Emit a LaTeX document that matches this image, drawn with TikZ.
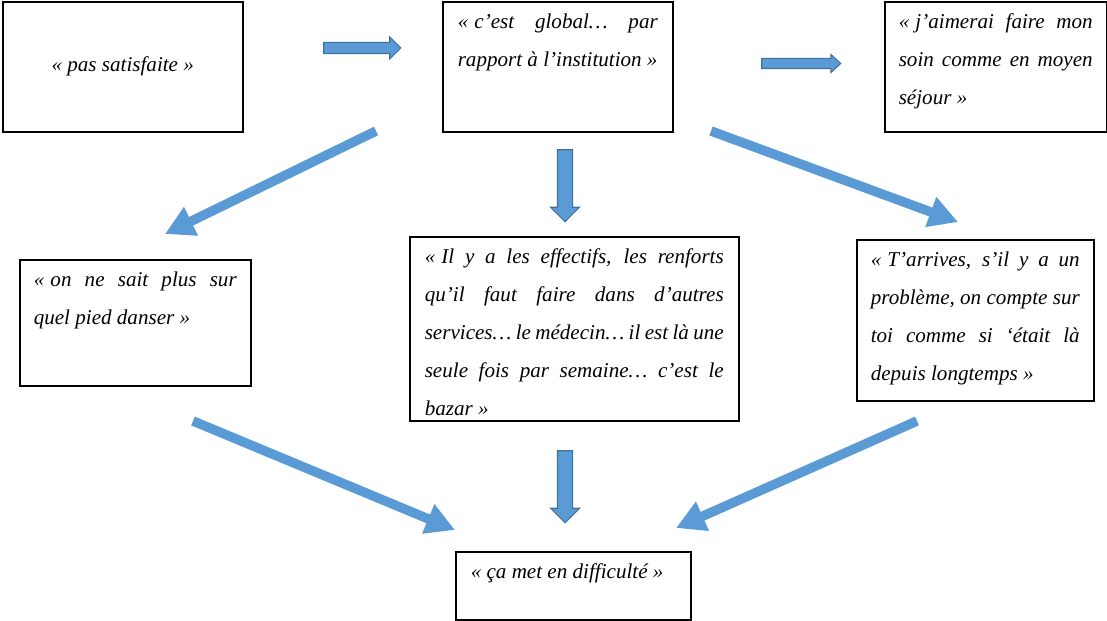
\documentclass[tikz,border=0pt]{standalone}
\usepackage{fontspec}
\setmainfont{Liberation Serif}
\usetikzlibrary{arrows.meta,%
		shapes.arrows,%
		positioning}
\definecolor{bleu}{HTML}{5B9BD5}
\definecolor{bleufonce}{HTML}{41719C}
\newcommand{\lj}[1]{\makebox[\linewidth][s]{#1}}
\newcommand{\og}{«\kern3.5pt}
\tikzset{
  cadre/.style={draw, line width=0.9pt, anchor=north west, inner ysep=0pt, inner xsep=0.28cm},
  fleche/.style={draw=bleu, line width=0.19cm, -{Triangle[length=0.58cm,width=0.6cm]}},
  bloc/.style={single arrow, draw=bleufonce, fill=bleu, line width=0.6pt, inner xsep=0pt,
    text height=0pt, text depth=0pt, single arrow head indent=0pt}
}

\begin{document}
\begin{tikzpicture}[x=0.02cm,y=-0.02cm,font=\itshape\fontsize{12}{21.6}\selectfont]
  \useasboundingbox (0,0) rectangle (1107,621);

  \node[cadre, inner xsep=0pt] (satisf) at (2,1) {\parbox[c][2.6cm][c]{4.8cm}{\centering « pas satisfaite »}};
  \node[cadre, inner xsep=0.3cm] (global) at (442,1) {\parbox[c][2.6cm][t]{4.0cm}{\strut\lj{\og c’est global… par}\\
    rapport à l’institution »}};
  \node[cadre] (moyen) at (884,1) {\parbox[c][2.6cm][t]{3.88cm}{\strut\lj{\og j’aimerai faire mon}\\
    \lj{soin comme en moyen}\\ séjour »}};
  \node[cadre] (pied) at (19,259) {\parbox[c][2.52cm][t]{4.06cm}{\strut\lj{\og on ne sait plus sur}\\
    quel pied danser »}};
  \node[cadre, inner xsep=0.3cm] (effectifs) at (409,236) {\parbox[c][3.68cm][t]{5.98cm}{\strut\lj{\og Il y a les effectifs, les renforts}\\
    \lj{qu’il faut faire dans d’autres}\\ \lj{services… le médecin… il est là une}\\
    \lj{seule fois par semaine… c’est le}\\ bazar »}};
  \node[cadre] (arrives) at (856,239) {\parbox[c][3.22cm][t]{4.18cm}{\strut\lj{\og T’arrives, s’il y a un}\\
    \lj{problème, on compte sur}\\ \lj{toi comme si ‘était là}\\ depuis longtemps »}};
  \node[cadre, inner xsep=0.3cm] (difficulte) at (455,551) {\parbox[c][1.36cm][t]{4.1cm}{\strut « ça met en difficulté »}};

  % fleches pleines
  \node[bloc, minimum height=1.54cm, inner ysep=0.1cm, single arrow head extend=0.11cm, single arrow tip angle=90] (fl1) at (359.5,48) {};
  \node[bloc, minimum height=1.58cm, inner ysep=0.09cm, single arrow head extend=0.08cm, single arrow tip angle=85] (fl2) at (798.5,63.5) {};
  \node[bloc, minimum height=1.44cm, inner ysep=0.14cm, single arrow head extend=0.14cm, rotate=-90] (fl3) at (565,182) {};
  \node[bloc, minimum height=1.44cm, inner ysep=0.14cm, single arrow head extend=0.14cm, rotate=-90] (fl4) at (565,483) {};

  % fleches obliques
  \coordinate (g1) at (376,131);
  \coordinate (g2) at (165,234);
  \coordinate (d1) at (711,131);
  \coordinate (d2) at (958,222);
  \coordinate (p1) at (193,421);
  \coordinate (p2) at (455,530);
  \coordinate (a1) at (917,421);
  \coordinate (a2) at (676,528);
  \draw[fleche] (g1) -- (g2); %vers pied
  \draw[fleche] (d1) -- (d2); %vers arrives
  \draw[fleche] (p1) -- (p2); %pied -> difficulte
  \draw[fleche] (a1) -- (a2); %arrives -> difficulte
\end{tikzpicture}
\end{document}
